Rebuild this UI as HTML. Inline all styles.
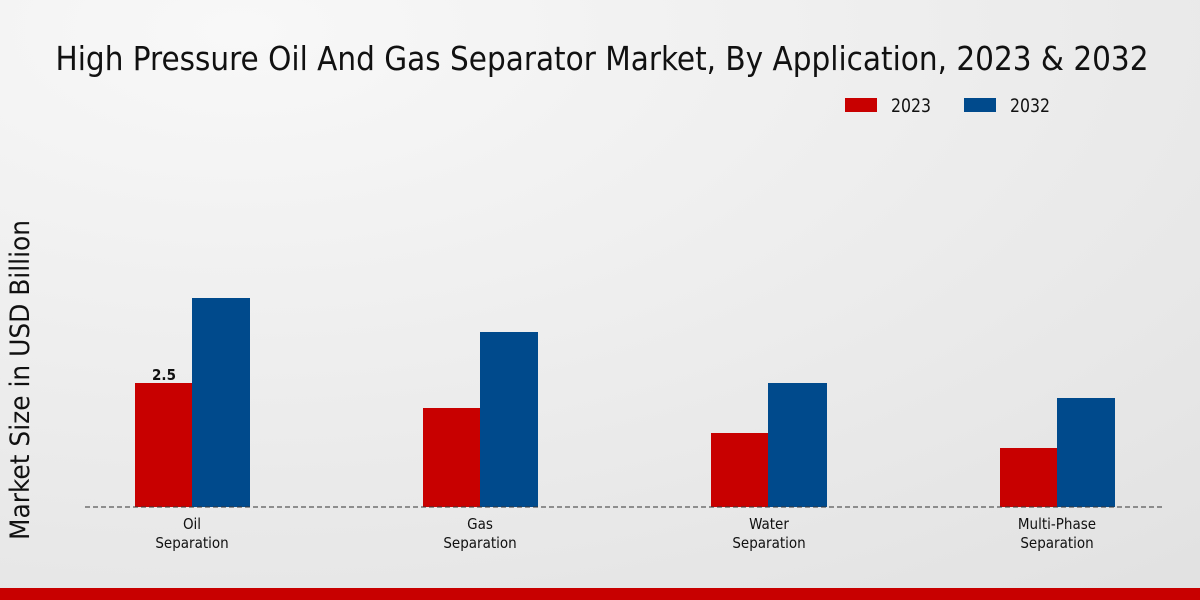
<!DOCTYPE html>
<html><head><meta charset="utf-8"><style>
html,body{margin:0;padding:0;width:1200px;height:600px;overflow:hidden}
svg text{font-family:"DejaVu Sans","Liberation Sans",sans-serif;font-stretch:condensed}
</style></head><body>
<svg width="1200" height="600" xmlns="http://www.w3.org/2000/svg">
<defs><radialGradient id="bg" cx="0.2" cy="0.05" r="1.2">
<stop offset="0" stop-color="#f8f8f8"/><stop offset="1" stop-color="#e2e2e2"/></radialGradient></defs>
<rect width="1200" height="600" fill="url(#bg)"/>
<text x="602" y="70" font-size="33" text-anchor="middle" fill="#111" textLength="1093" lengthAdjust="spacingAndGlyphs">High Pressure Oil And Gas Separator Market, By Application, 2023 &amp; 2032</text>
<rect x="845" y="98" width="32" height="14" fill="#c80000"/>
<text x="891" y="112" font-size="19" fill="#111" textLength="40" lengthAdjust="spacingAndGlyphs">2023</text>
<rect x="964" y="98" width="32" height="14" fill="#004a8c"/>
<text x="1010" y="112" font-size="19" fill="#111" textLength="40" lengthAdjust="spacingAndGlyphs">2032</text>
<text transform="translate(29,380) rotate(-90)" font-size="27" text-anchor="middle" fill="#111" textLength="320" lengthAdjust="spacingAndGlyphs">Market Size in USD Billion</text>
<g>
<rect x="135" y="383" width="57" height="124" fill="#c80000"/>
<rect x="192" y="298" width="58" height="209" fill="#004a8c"/>
<rect x="423" y="408" width="57" height="99" fill="#c80000"/>
<rect x="480" y="332" width="58" height="175" fill="#004a8c"/>
<rect x="711" y="433" width="57" height="74" fill="#c80000"/>
<rect x="768" y="383" width="59" height="124" fill="#004a8c"/>
<rect x="1000" y="448" width="57" height="59" fill="#c80000"/>
<rect x="1057" y="398" width="58" height="109" fill="#004a8c"/>
</g>
<text x="164" y="380" font-size="15" font-weight="bold" text-anchor="middle" fill="#111">2.5</text>
<line x1="85" y1="507" x2="1165" y2="507" stroke="#333" stroke-width="1" stroke-dasharray="5,3"/>
<g font-size="15" text-anchor="middle" fill="#111">
<text x="192" y="529">Oil</text><text x="192" y="548">Separation</text>
<text x="480" y="529">Gas</text><text x="480" y="548">Separation</text>
<text x="769" y="529">Water</text><text x="769" y="548">Separation</text>
<text x="1057" y="529">Multi-Phase</text><text x="1057" y="548">Separation</text>
</g>
<rect x="0" y="588" width="1200" height="12" fill="#c80000"/>
</svg>
</body></html>
